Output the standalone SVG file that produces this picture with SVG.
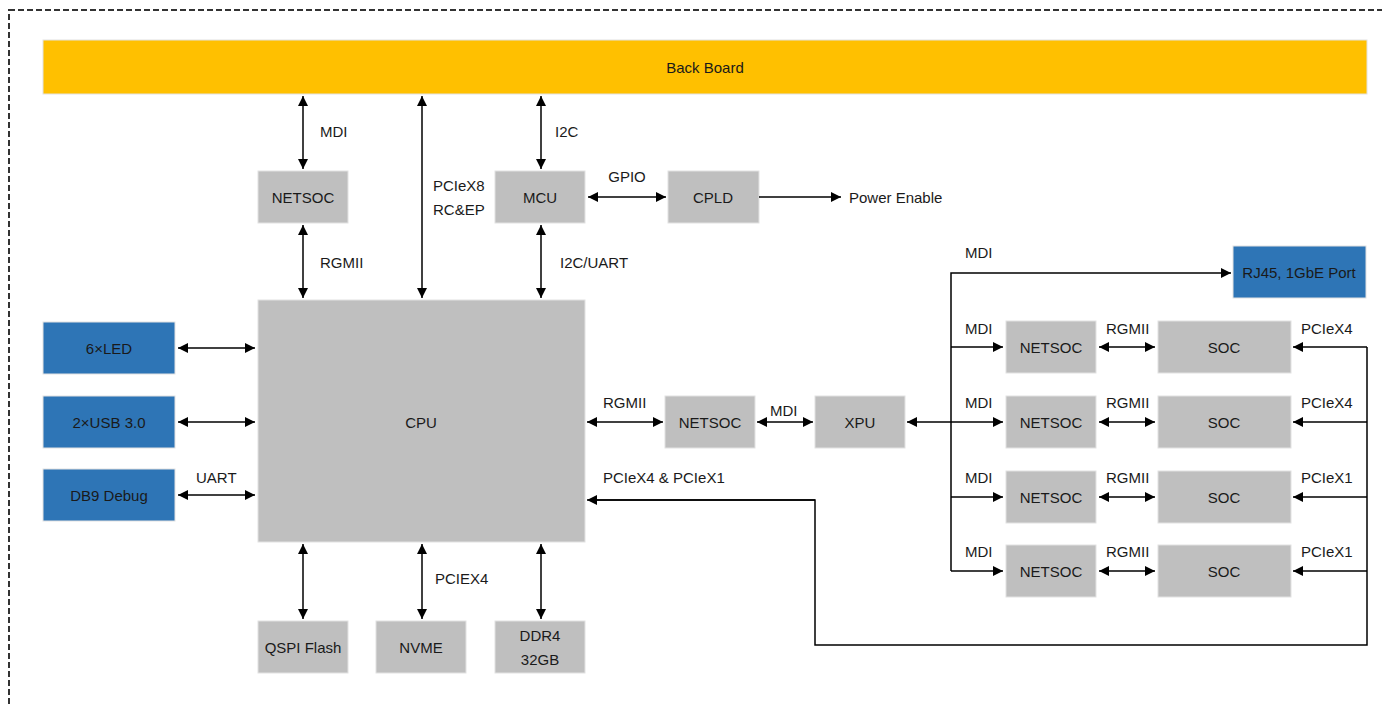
<svg xmlns="http://www.w3.org/2000/svg" width="1382" height="707" viewBox="0 0 1382 707">
<defs>
<marker id="ah" viewBox="0 0 10 10" refX="10" refY="5" markerWidth="10" markerHeight="10" markerUnits="userSpaceOnUse" orient="auto-start-reverse"><path d="M0,0 L10,5 L0,10 z" fill="#000"/></marker>
</defs>
<style>
text{font-family:"Liberation Sans",Arial,sans-serif;font-size:15px;fill:#1a1a1a;dominant-baseline:central}
.c{text-anchor:middle}
.g{fill:#bfbfbf;stroke:#e2e2e2;stroke-width:1}
.b{fill:#2e75b6;stroke:#e2e2e2;stroke-width:1}
.y{fill:#ffc000;stroke:#e2e2e2;stroke-width:1}
.l{fill:none;stroke:#000;stroke-width:1.5}
.d{marker-start:url(#ah);marker-end:url(#ah)}
.e{marker-end:url(#ah)}
</style>
<rect x="9" y="10" width="1400" height="720" fill="none" stroke="#333" stroke-width="2" stroke-dasharray="6 3"/>
<g id="backboard"><rect class="y" x="43" y="40" width="1324" height="54"/><text class="c" x="705" y="67">Back Board</text></g>
<g id="netsoc-top"><rect class="g" x="258" y="171" width="90" height="52"/><text class="c" x="303" y="197">NETSOC</text></g>
<g id="mcu"><rect class="g" x="495" y="171" width="90" height="52"/><text class="c" x="540" y="197">MCU</text></g>
<g id="cpld"><rect class="g" x="668" y="171" width="91" height="52"/><text class="c" x="713" y="197">CPLD</text></g>
<g id="cpu"><rect class="g" x="258" y="300" width="327" height="242"/><text class="c" x="421" y="422">CPU</text></g>
<g id="led"><rect class="b" x="43" y="322" width="132" height="52"/><text class="c" x="109" y="348">6×LED</text></g>
<g id="usb"><rect class="b" x="43" y="396" width="132" height="52"/><text class="c" x="109" y="422">2×USB 3.0</text></g>
<g id="db9"><rect class="b" x="43" y="469" width="132" height="52"/><text class="c" x="109" y="495">DB9 Debug</text></g>
<g id="qspi"><rect class="g" x="258" y="621" width="90" height="52"/><text class="c" x="303" y="647">QSPI Flash</text></g>
<g id="nvme"><rect class="g" x="376" y="621" width="90" height="52"/><text class="c" x="421" y="647">NVME</text></g>
<g id="ddr4"><rect class="g" x="495" y="621" width="90" height="52"/><text class="c" x="540" y="635">DDR4</text><text class="c" x="540" y="659">32GB</text></g>
<g id="netsoc-mid"><rect class="g" x="665" y="396" width="90" height="52"/><text class="c" x="710" y="422">NETSOC</text></g>
<g id="xpu"><rect class="g" x="815" y="396" width="90" height="52"/><text class="c" x="860" y="422">XPU</text></g>
<g id="rj45"><rect class="b" x="1233" y="246" width="133" height="52"/><text class="c" x="1299" y="272">RJ45, 1GbE Port</text></g>
<g id="netsoc1"><rect class="g" x="1006" y="321" width="90" height="52"/><text class="c" x="1051" y="347">NETSOC</text></g>
<g id="netsoc2"><rect class="g" x="1006" y="396" width="90" height="52"/><text class="c" x="1051" y="422">NETSOC</text></g>
<g id="netsoc3"><rect class="g" x="1006" y="471" width="90" height="52"/><text class="c" x="1051" y="497">NETSOC</text></g>
<g id="netsoc4"><rect class="g" x="1006" y="545" width="90" height="52"/><text class="c" x="1051" y="571">NETSOC</text></g>
<g id="soc1"><rect class="g" x="1158" y="321" width="133" height="52"/><text class="c" x="1224" y="347">SOC</text></g>
<g id="soc2"><rect class="g" x="1158" y="396" width="133" height="52"/><text class="c" x="1224" y="422">SOC</text></g>
<g id="soc3"><rect class="g" x="1158" y="471" width="133" height="52"/><text class="c" x="1224" y="497">SOC</text></g>
<g id="soc4"><rect class="g" x="1158" y="545" width="133" height="52"/><text class="c" x="1224" y="571">SOC</text></g>
<g id="connectors">
<line class="l d" x1="303" y1="96" x2="303" y2="169"/>
<line class="l d" x1="303" y1="225" x2="303" y2="298"/>
<line class="l d" x1="422" y1="96" x2="422" y2="298"/>
<line class="l d" x1="541" y1="96" x2="541" y2="169"/>
<line class="l d" x1="541" y1="225" x2="541" y2="298"/>
<line class="l d" x1="588" y1="197" x2="666" y2="197"/>
<line class="l e" x1="759" y1="197" x2="841" y2="197"/>
<line class="l d" x1="178" y1="348" x2="255" y2="348"/>
<line class="l d" x1="178" y1="422" x2="255" y2="422"/>
<line class="l d" x1="178" y1="495" x2="255" y2="495"/>
<line class="l d" x1="303" y1="544" x2="303" y2="619"/>
<line class="l d" x1="422" y1="544" x2="422" y2="619"/>
<line class="l d" x1="541" y1="544" x2="541" y2="619"/>
<line class="l d" x1="587" y1="422" x2="663" y2="422"/>
<line class="l d" x1="757" y1="422" x2="813" y2="422"/>
<line class="l d" x1="907" y1="422" x2="1003" y2="422"/>
<polyline class="l e" points="951,571 951,273 1231,273"/>
<line class="l e" x1="951" y1="347" x2="1003" y2="347"/>
<line class="l e" x1="951" y1="497" x2="1003" y2="497"/>
<line class="l e" x1="951" y1="571" x2="1003" y2="571"/>
<line class="l d" x1="1099" y1="347" x2="1155" y2="347"/>
<line class="l d" x1="1099" y1="422" x2="1155" y2="422"/>
<line class="l d" x1="1099" y1="497" x2="1155" y2="497"/>
<line class="l d" x1="1099" y1="571" x2="1155" y2="571"/>
<polyline class="l" points="1367,347 1367,645 815,645 815,500 597,500"/>
<line class="l e" x1="815" y1="500" x2="587" y2="500"/>
<line class="l e" x1="1367" y1="347" x2="1293" y2="347"/>
<line class="l e" x1="1367" y1="422" x2="1293" y2="422"/>
<line class="l e" x1="1367" y1="497" x2="1293" y2="497"/>
<line class="l e" x1="1367" y1="571" x2="1293" y2="571"/>
</g>
<g id="labels">
<text x="320" y="131">MDI</text>
<text x="433" y="185">PCIeX8</text>
<text x="433" y="209">RC&amp;EP</text>
<text x="555" y="131">I2C</text>
<text class="c" x="627" y="176">GPIO</text>
<text x="849" y="197">Power Enable</text>
<text x="320" y="262">RGMII</text>
<text x="560" y="262">I2C/UART</text>
<text x="196" y="477">UART</text>
<text x="603" y="402">RGMII</text>
<text x="770" y="410">MDI</text>
<text x="603" y="477">PCIeX4 &amp; PCIeX1</text>
<text x="435" y="578">PCIEX4</text>
<text x="965" y="252">MDI</text>
<text x="965" y="328">MDI</text>
<text x="965" y="402">MDI</text>
<text x="965" y="477">MDI</text>
<text x="965" y="551">MDI</text>
<text x="1106" y="328">RGMII</text>
<text x="1106" y="402">RGMII</text>
<text x="1106" y="477">RGMII</text>
<text x="1106" y="551">RGMII</text>
<text x="1301" y="328">PCIeX4</text>
<text x="1301" y="402">PCIeX4</text>
<text x="1301" y="477">PCIeX1</text>
<text x="1301" y="551">PCIeX1</text>
</g>
</svg>
